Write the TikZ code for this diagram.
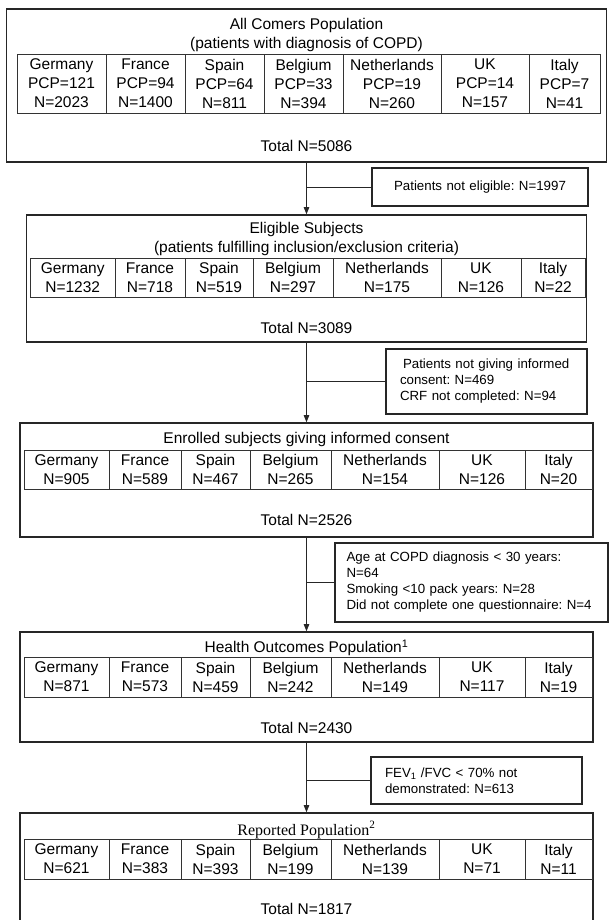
\documentclass[tikz,border=0pt]{standalone}
\usepackage{fontspec}
\setmainfont{Liberation Sans}
\newfontfamily\serifrm{Liberation Serif}
\usetikzlibrary{arrows.meta}
\frenchspacing

\begin{document}
\begin{tikzpicture}[x=1pt, y=-1pt,
    every node/.style={font=\fontsize{15.5}{19}\selectfont},
    popbox/.style={draw=black!85, line width=1.6pt, inner sep=0pt},
    cell/.style={draw=black!80, line width=0.8pt, inner sep=0pt, align=center},
    sidebox/.style={draw=black!85, line width=1.6pt, inner xsep=14pt, inner ysep=0pt, align=left, font=\fontsize{13.3}{16}\selectfont},
    flow/.style={-{Triangle[length=7pt,width=5.5pt]}, draw=black!85, line width=0.8pt},
    branch/.style={draw=black!85, line width=0.8pt}]
    \useasboundingbox (0,0) rectangle (609,920);
    \clip (0,0) rectangle (609,920);

    % all comers
    \node[popbox, minimum width=600pt, minimum height=153pt] (allcom) at (306.5,85.5) {};
    \node[align=center] (allcom-t) at (306.5,35) {All Comers Population\\(patients with diagnosis of COPD)};
    \foreach \xa/\xb/\txt [count=\i] in {17/106/Germany\\PCP=121\\N=2023, 106/185/France\\PCP=94\\N=1400,
        185/264/Spain\\PCP=64\\N=811, 264/343/Belgium\\PCP=33\\N=394, 343/441/Netherlands\\PCP=19\\N=260,
        441/529/UK\\PCP=14\\N=157, 529/600/Italy\\PCP=7\\N=41}
        \node[cell, minimum width={(\xb-\xa)*1pt}, minimum height=59pt] (allcom-\i) at ({(\xa+\xb)/2},83.5) {\txt};
    \node (allcom-n) at (306.5,146) {Total N=5086};

    % eligible
    \node[popbox, minimum width=560pt, minimum height=127pt] (elig) at (306.5,278.5) {};
    \node[align=center] (elig-t) at (306.5,238.5) {Eligible Subjects\\(patients fulfilling inclusion/exclusion criteria)};
    \foreach \xa/\xb/\txt [count=\i] in {30.5/115/Germany\\N=1232, 115/185/France\\N=718, 185/253/Spain\\N=519,
        253/333/Belgium\\N=297, 333/441/Netherlands\\N=175, 441/521/UK\\N=126, 521/585/Italy\\N=22}
        \node[cell, minimum width={(\xb-\xa)*1pt}, minimum height=39pt] (elig-\i) at ({(\xa+\xb)/2},277.5) {\txt};
    \node (elig-n) at (306.5,328) {Total N=3089};

    % enrolled
    \node[popbox, minimum width=573pt, minimum height=114pt] (enrol) at (306.5,480) {};
    \node (enrol-t) at (306.5,439) {Enrolled subjects giving informed consent};
    \foreach \xa/\xb/\txt [count=\i] in {24/109/Germany\\N=905, 109/181/France\\N=589, 181/250/Spain\\N=467,
        250/331/Belgium\\N=265, 331/439/Netherlands\\N=154, 439/525/UK\\N=126, 525/592/Italy\\N=20}
        \node[cell, minimum width={(\xb-\xa)*1pt}, minimum height=39pt] (enrol-\i) at ({(\xa+\xb)/2},469.5) {\txt};
    \node (enrol-n) at (306.5,520) {Total N=2526};

    % health outcomes
    \node[popbox, minimum width=573pt, minimum height=110pt] (hop) at (306.5,687) {};
    \node (hop-t) at (306.5,648) {Health Outcomes Population\textsuperscript{1}};
    \foreach \xa/\xb/\txt [count=\i] in {24/109/Germany\\N=871, 109/181/France\\N=573, 181/250/Spain\\N=459,
        250/331/Belgium\\N=242, 331/439/Netherlands\\N=149, 439/525/UK\\N=117, 525/592/Italy\\N=19}
        \node[cell, minimum width={(\xb-\xa)*1pt}, minimum height=40pt] (hop-\i) at ({(\xa+\xb)/2},677) {\txt};
    \node (hop-n) at (306.5,728) {Total N=2430};

    % reported (runs off the page)
    \node[popbox, minimum width=573pt, minimum height=117pt] (rep) at (306.5,871.5) {};
    \node[font=\serifrm\fontsize{16}{19}\selectfont] (rep-t) at (306.5,830) {Reported Population\textsuperscript{2}};
    \foreach \xa/\xb/\txt [count=\i] in {24/109/Germany\\N=621, 109/181/France\\N=383, 181/250/Spain\\N=393,
        250/331/Belgium\\N=199, 331/439/Netherlands\\N=139, 439/525/UK\\N=71, 525/592/Italy\\N=11}
        \node[cell, minimum width={(\xb-\xa)*1pt}, minimum height=40pt] (rep-\i) at ({(\xa+\xb)/2},859) {\txt};
    \node (rep-n) at (306.5,909) {Total N=1817};

    % exclusions
    \node[sidebox, align=center, text width=188pt, minimum height=38pt] (notelig) at (480,187) {Patients not eligible: N=1997};
    \node[sidebox, text width=173pt, minimum height=65pt] (nocons) at (486.5,381.5)
        {\hspace*{3pt}Patients not giving informed\\consent: N=469\\CRF not completed: N=94};
    \node[sidebox, inner xsep=11.5pt, text width=250pt, minimum height=79pt] (excl) at (471.5,582.5)
        {Age at COPD diagnosis < 30 years:\\N=64\\Smoking <10 pack years: N=28\\Did not complete one questionnaire: N=4};
    \node[sidebox, text width=183pt, minimum height=47pt] (nofev) at (476.5,780.5)
        {FEV\textsubscript{1} /FVC < 70\% not\\demonstrated: N=613};

    \draw[flow] (allcom.south) -- (elig.north);
    \draw[flow] (elig.south) -- (enrol.north);
    \draw[flow] (enrol.south) -- (hop.north);
    \draw[flow] (hop.south) -- (rep.north);
    \draw[branch] (notelig.west) -- (notelig.west -| allcom.south);
    \draw[branch] (nocons.west) -- (nocons.west -| elig.south);
    \draw[branch] (excl.west) -- (excl.west -| enrol.south);
    \draw[branch] (nofev.west) -- (nofev.west -| hop.south);
\end{tikzpicture}
\end{document}
